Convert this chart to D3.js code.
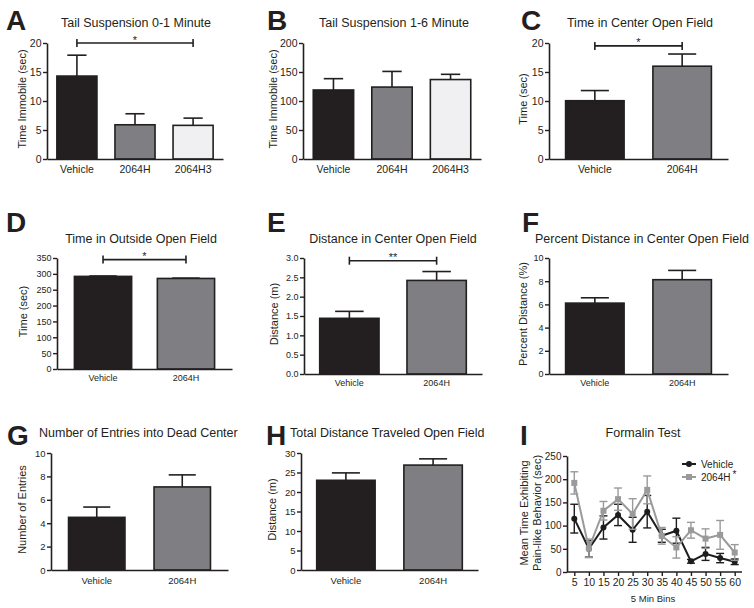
<!DOCTYPE html>
<html><head><meta charset="utf-8">
<script src="https://cdn.jsdelivr.net/npm/d3@7"></script>
<style>
body{margin:0;background:#fff}
svg{display:block}
text{font-family:"Liberation Sans",Arial,Helvetica,sans-serif;fill:#231f20}
</style>
</head><body>
<svg id="c" width="754" height="608"></svg>
<script>
// ---------- data ----------
const cats3 = ["Vehicle", "2064H", "2064H3"];
const cats2 = ["Vehicle", "2064H"];

const aMeans = [14.3, 5.9, 5.8],   aSem = [3.6, 1.9, 1.25];
const bMeans = [119, 124, 137],    bSem = [19.5, 27, 9];
const cMeans = [10.05, 16.0],      cSem = [1.75, 2.1];
const dMeans = [292, 285.5],       dSem = [1.2, 1.0];
const eMeans = [1.44, 2.42],       eSem = [0.18, 0.23];
const fMeans = [6.11, 8.13],       fSem = [0.46, 0.8];
const gMeans = [4.5, 7.1],         gSem = [0.88, 1.03];
const hMeans = [23.0, 26.9],       hSem = [1.9, 1.6];

const aTicks = [0, 5, 10, 15, 20];
const bTicks = [0, 50, 100, 150, 200];
const cTicks = [0, 5, 10, 15, 20];
const dTicks = [0, 50, 100, 150, 200, 250, 300, 350];
const eTicks = [0, 0.5, 1.0, 1.5, 2.0, 2.5, 3.0];
const fTicks = [0, 2, 4, 6, 8, 10];
const gTicks = [0, 2, 4, 6, 8, 10];
const hTicks = [0, 5, 10, 15, 20, 25, 30];
const iTicks = [0, 50, 100, 150, 200, 250];

const bins = [5, 10, 15, 20, 25, 30, 35, 40, 45, 50, 55, 60];
const vehMean  = [115, 50, 96, 123, 91, 130, 78, 89, 23, 39, 30, 22];
const vehSem   = [31, 18, 25, 23, 27, 35, 14, 27, 4, 14, 10, 6];
const drugMean = [192, 51, 132, 157, 125, 177, 78, 53, 90, 72, 80, 42];
const drugSem  = [24, 20, 20, 24, 33, 30, 18, 23, 17, 21, 31, 17];

const barFills = ["#231f20", "#7f7f83", "#f0f0f2"];
const INK = "#231f20";

// ---------- layout ----------
const svg = d3.select("#c");

const panels = [
  {letter:"A", lx:6, ly:30, title:"Tail Suspension 0-1 Minute", tx:136, ty:27, anchor:"middle",
   ylab:"Time Immobile (sec)", ylx:26, x0:47, x1:223, top:43, bot:159, pi:0.31, po:0.17, xpad:6.5,
   max:20, ticks:aTicks, fmt:"d", fs:10.5, cats:cats3, means:aMeans, sem:aSem, sig:{a:0,b:2,at:20,t:"*"}},
  {letter:"B", lx:267, ly:30, title:"Tail Suspension 1-6 Minute", tx:394, ty:27, anchor:"middle",
   ylab:"Time Immobile (sec)", ylx:277, x0:303, x1:481, top:43, bot:159, pi:0.31, po:0.175, xpad:6.5,
   max:200, ticks:bTicks, fmt:"d", fs:10.5, cats:cats3, means:bMeans, sem:bSem},
  {letter:"C", lx:521, ly:30, title:"Time in Center Open Field", tx:640, ty:27, anchor:"middle",
   ylab:"Time (sec)", ylx:527, x0:549, x1:728, top:43, bot:159, pi:0.33, po:0.19, xpad:6.5,
   max:20, ticks:cTicks, fmt:"d", fs:10.5, cats:cats2, means:cMeans, sem:cSem, sig:{a:0,b:1,at:19.5,t:"*"}},
  {letter:"D", lx:6, ly:232, title:"Time in Outside Open Field", tx:141, ty:243, anchor:"middle",
   ylab:"Time (sec)", ylx:27, x0:57, x1:232, top:258, bot:369, pi:0.31, po:0.21, xpad:5.6,
   max:350, ticks:dTicks, fmt:"d", fs:9, cats:cats2, means:dMeans, sem:dSem, sig:{a:0,b:1,at:345,t:"*"}},
  {letter:"E", lx:267, ly:232, title:"Distance in Center Open Field", tx:393, ty:243, anchor:"middle",
   ylab:"Distance (m)", ylx:278, x0:304, x1:482, top:258, bot:374, pi:0.32, po:0.18, xpad:5.6,
   max:3, ticks:eTicks, fmt:".1f", fs:9, cats:cats2, means:eMeans, sem:eSem, sig:{a:0,b:1,at:2.93,t:"**"}},
  {letter:"F", lx:522, ly:232, title:"Percent Distance in Center Open Field", tx:642, ty:243, anchor:"middle",
   ylab:"Percent Distance (%)", ylx:527, x0:549, x1:728, top:258, bot:374, pi:0.33, po:0.19, xpad:5.6,
   max:10, ticks:fTicks, fmt:"d", fs:9, cats:cats2, means:fMeans, sem:fSem},
  {letter:"G", lx:7, ly:445, title:"Number of Entries into Dead Center", tx:39, ty:437, anchor:"start",
   ylab:"Number of Entries", ylx:26, x0:51, x1:228, top:453, bot:570, pi:0.34, po:0.205, xpad:7.3,
   max:10, ticks:gTicks, fmt:"d", fs:9.5, cats:cats2, means:gMeans, sem:gSem},
  {letter:"H", lx:266, ly:445, title:"Total Distance Traveled Open Field", tx:290, ty:437, anchor:"start",
   ylab:"Distance (m)", ylx:276, x0:301, x1:478, top:453, bot:570, pi:0.33, po:0.18, xpad:7.3,
   max:30, ticks:hTicks, fmt:"d", fs:9.5, cats:cats2, means:hMeans, sem:hSem}
];

function header(p, g) {
  g.append("text").attr("x", p.lx).attr("y", p.ly)
    .attr("font-size", 28).attr("font-weight", "bold").text(p.letter);
  g.append("text").attr("x", p.tx).attr("y", p.ty).attr("text-anchor", p.anchor)
    .attr("font-size", 12.5).text(p.title);
}

function styleAxis(a) {
  a.select(".domain").attr("stroke", INK).attr("stroke-width", 1.6);
  a.selectAll(".tick line").attr("stroke", INK).attr("stroke-width", 1.4);
  a.selectAll(".tick text").attr("fill", INK);
}

function drawBar(p) {
  const g = svg.append("g");
  header(p, g);
  const y = d3.scaleLinear().domain([0, p.max]).range([p.bot, p.top]);
  const x = d3.scaleBand().domain(p.cats).range([p.x0, p.x1])
    .paddingInner(p.pi).paddingOuter(p.po);
  const bw = x.bandwidth();

  // bars
  g.selectAll("rect.bar").data(p.cats).join("rect")
    .attr("x", c => x(c)).attr("y", (c, i) => y(p.means[i]))
    .attr("width", bw).attr("height", (c, i) => p.bot - y(p.means[i]))
    .attr("fill", (c, i) => barFills[i]).attr("stroke", INK).attr("stroke-width", 1.6);

  // error bars (upper half)
  const eb = g.selectAll("g.eb").data(p.cats).join("g");
  eb.append("line")
    .attr("x1", c => x(c) + bw / 2).attr("x2", c => x(c) + bw / 2)
    .attr("y1", (c, i) => y(p.means[i])).attr("y2", (c, i) => y(p.means[i] + p.sem[i]))
    .attr("stroke", INK).attr("stroke-width", 1.6);
  eb.append("line")
    .attr("x1", c => x(c) + bw / 2 - bw * 0.24).attr("x2", c => x(c) + bw / 2 + bw * 0.24)
    .attr("y1", (c, i) => y(p.means[i] + p.sem[i])).attr("y2", (c, i) => y(p.means[i] + p.sem[i]))
    .attr("stroke", INK).attr("stroke-width", 1.6);

  // axes
  const ya = g.append("g").attr("transform", `translate(${p.x0},0)`)
    .call(d3.axisLeft(y).tickValues(p.ticks).tickSize(4).tickSizeOuter(0)
      .tickFormat(d3.format(p.fmt)).tickPadding(1.5));
  ya.selectAll("text").attr("font-size", p.fs);
  styleAxis(ya);
  const xa = g.append("g").attr("transform", `translate(0,${p.bot})`)
    .call(d3.axisBottom(x).tickSize(0).tickSizeOuter(0).tickPadding(p.xpad));
  xa.selectAll("text").attr("font-size", p.fs);
  styleAxis(xa);

  // y label
  g.append("text").attr("transform", `translate(${p.ylx},${(p.top + p.bot) / 2 - 2}) rotate(-90)`)
    .attr("text-anchor", "middle").attr("font-size", 11).text(p.ylab);

  // significance bracket
  if (p.sig) {
    const xa1 = x(p.cats[p.sig.a]) + bw / 2, xb1 = x(p.cats[p.sig.b]) + bw / 2;
    const yy = y(p.sig.at);
    const s = g.append("g").attr("stroke", INK).attr("stroke-width", 1.6);
    s.append("line").attr("x1", xa1).attr("x2", xb1).attr("y1", yy).attr("y2", yy);
    s.append("line").attr("x1", xa1).attr("x2", xa1).attr("y1", yy - 4).attr("y2", yy + 4);
    s.append("line").attr("x1", xb1).attr("x2", xb1).attr("y1", yy - 4).attr("y2", yy + 4);
    g.append("text").attr("x", (xa1 + xb1) / 2).attr("y", yy + 0.5)
      .attr("text-anchor", "middle").attr("font-size", 11).text(p.sig.t);
  }
}

panels.forEach(drawBar);

// ---------- panel I ----------
(function () {
  const g = svg.append("g");
  header({letter:"I", lx:520, ly:445, title:"Formalin Test", tx:643, ty:437, anchor:"middle"}, g);
  const x = d3.scalePoint().domain(bins).range([567, 742]).padding(0.5);
  const y = d3.scaleLinear().domain([0, 250]).range([572, 456]);

  const ya = g.append("g").attr("transform", "translate(567,0)")
    .call(d3.axisLeft(y).tickValues(iTicks).tickSize(4).tickSizeOuter(0).tickPadding(1.5));
  ya.selectAll("text").attr("font-size", 10);
  styleAxis(ya);
  const xa = g.append("g").attr("transform", "translate(0,572)")
    .call(d3.axisBottom(x).tickSize(4).tickSizeOuter(0).tickPadding(3));
  xa.selectAll("text").attr("font-size", 10.5);
  styleAxis(xa);
  xa.select(".domain").attr("d", "M567,0H742");

  g.append("text").attr("x", 653).attr("y", 602).attr("text-anchor", "middle")
    .attr("font-size", 9.5).text("5 Min Bins");
  const yl = g.append("text").attr("transform", "translate(528,513) rotate(-90)")
    .attr("text-anchor", "middle").attr("font-size", 11);
  yl.append("tspan").attr("x", 0).attr("dy", 0).text("Mean Time Exhibiting");
  yl.append("tspan").attr("x", 0).attr("dy", 13).text("Pain-like Behavior (sec)");

  const series = [
    {name:"Vehicle", mean:vehMean, sem:vehSem, color:"#1e1c1d", shape:"circle"},
    {name:"2064H", mean:drugMean, sem:drugSem, color:"#9a9a9c", shape:"square"}
  ];
  const line = d3.line().x((d, i) => x(bins[i])).y(d => y(d));

  series.forEach(s => {
    const sg = g.append("g");
    bins.forEach((b, i) => {
      const cx = x(b), yt = y(s.mean[i] + s.sem[i]), yb = y(s.mean[i] - s.sem[i]);
      sg.append("line").attr("x1", cx).attr("x2", cx).attr("y1", yt).attr("y2", yb)
        .attr("stroke", s.color).attr("stroke-width", 1.4);
      [yt, yb].forEach(yy => sg.append("line").attr("x1", cx - 4).attr("x2", cx + 4)
        .attr("y1", yy).attr("y2", yy).attr("stroke", s.color).attr("stroke-width", 1.4));
    });
    sg.append("path").datum(s.mean).attr("d", line).attr("fill", "none")
      .attr("stroke", s.color).attr("stroke-width", 2);
    s.mean.forEach((v, i) => {
      if (s.shape === "circle")
        sg.append("circle").attr("cx", x(bins[i])).attr("cy", y(v)).attr("r", 3).attr("fill", s.color);
      else
        sg.append("rect").attr("x", x(bins[i]) - 3).attr("y", y(v) - 3).attr("width", 6).attr("height", 6)
          .attr("fill", s.color);
    });
  });

  // legend
  series.forEach((s, k) => {
    const ly = 464 + k * 13;
    g.append("line").attr("x1", 682).attr("x2", 696).attr("y1", ly).attr("y2", ly)
      .attr("stroke", s.color).attr("stroke-width", 2);
    if (s.shape === "circle")
      g.append("circle").attr("cx", 689).attr("cy", ly).attr("r", 3).attr("fill", s.color);
    else
      g.append("rect").attr("x", 686).attr("y", ly - 3).attr("width", 6).attr("height", 6).attr("fill", s.color);
    const t = g.append("text").attr("x", 701).attr("y", ly + 3.5).attr("font-size", 10).text(s.name);
    if (k === 1) t.append("tspan").attr("dx", 2).attr("dy", -3).attr("font-size", 10).text("*");
  });
})();
</script>
</body></html>
